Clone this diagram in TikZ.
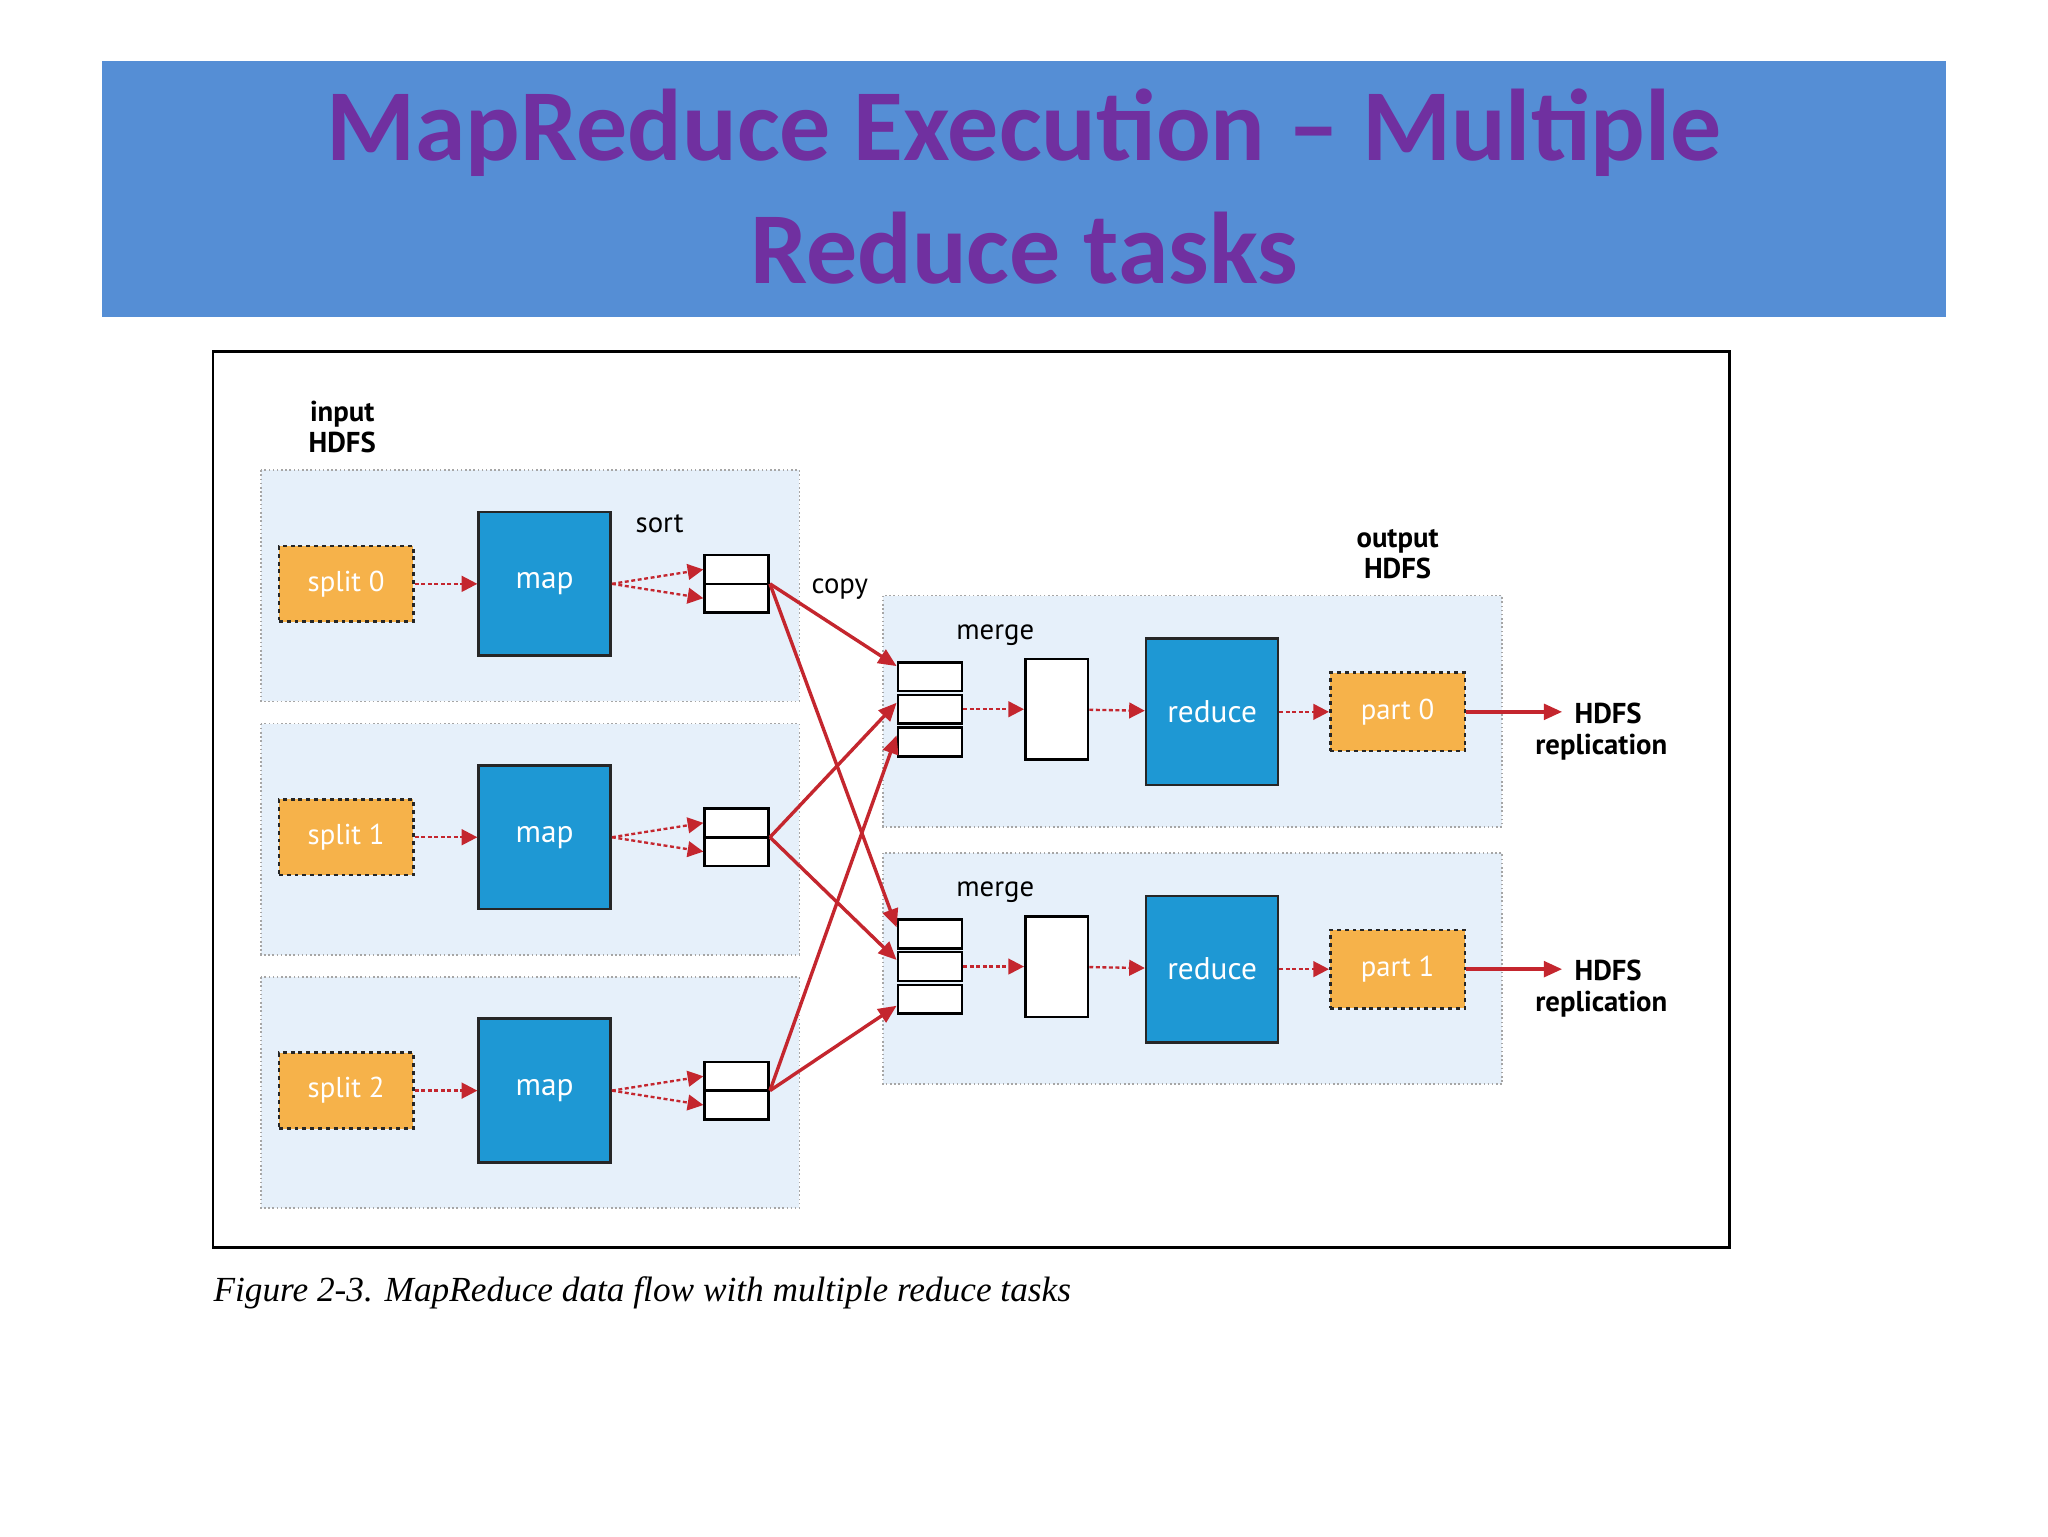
\documentclass[tikz,border=0pt]{standalone}
\usepackage{fontspec}
\setmainfont{Carlito}
\newfontfamily\dfont{PT Sans}
\newfontfamily\cfont{Liberation Serif}
\usetikzlibrary{arrows.meta,calc}
\definecolor{band}{HTML}{558ED5}
\definecolor{tpurple}{HTML}{7030A0}
\definecolor{rred}{HTML}{C4262E}
\definecolor{mblue}{HTML}{1E98D4}
\definecolor{sorange}{HTML}{F6B24A}
\definecolor{rbg}{HTML}{E6F0FA}
\tikzset{
  region/.style={draw=gray!70, dotted, line width=1.2pt, fill=rbg},
  splitbox/.style={draw=black!85, dashed, line width=2pt, fill=sorange, minimum width=103, minimum height=58, font=\dfont\fontsize{22}{24}\selectfont, text=white},
  mapbox/.style={draw=black!85, line width=2pt, fill=mblue, minimum width=101, minimum height=110, font=\dfont\fontsize{24}{26}\selectfont, text=white},
  cell/.style={draw=black, line width=2pt, fill=white, minimum width=49, minimum height=22, inner sep=0},
  wbox/.style={draw=black, line width=2pt, fill=white, minimum width=48, minimum height=77},
  darr/.style={rred, densely dashed, line width=1.8pt, -{Triangle[length=12,width=12]}},
  carr/.style={rred, line width=2.6pt, -{Triangle[length=14,width=12]}},
  lbl/.style={font=\dfont\fontsize{22}{24}\selectfont},
  blbl/.style={font=\dfont\bfseries\fontsize{22}{24}\selectfont, align=center}
}
\begin{document}
\begin{tikzpicture}[x=1pt,y=-1pt]
\useasboundingbox (0,0) rectangle (1568,1176);
\fill[white] (0,0) rectangle (1568,1176);
\fill[band] (78,47) rectangle (1490,243);
\node[text=tpurple, font=\bfseries\fontsize{78}{94}\selectfont, align=center] (title) at (784,143) {MapReduce Execution -- Multiple\\Reduce tasks};
\draw[line width=2pt, fill=white] (163,269) rectangle (1324,955);
\node[anchor=west, font=\cfont\itshape\fontsize{27}{30}\selectfont] (cap) at (160,990) {Figure 2-3. MapReduce data flow with multiple reduce tasks};
\node[blbl] (inhdfs) at (262,327) {input\\HDFS};
\node[blbl] (outhdfs) at (1070,424) {output\\HDFS};
\foreach \i/\y in {0/447,1/641,2/835}{
  \draw[region] (200,\y-87) rectangle (612,\y+90);
  \node[splitbox] (s\i) at (265,\y) {split \i};
  \node[mapbox] (m\i) at (417,\y) {map};
  \node[cell] (a\i) at (564,\y-11) {};
  \node[cell] (b\i) at (564,\y+11) {};
  \draw[darr] (s\i) -- (m\i);
  \draw[darr] (m\i.east) -- (a\i.west);
  \draw[darr] (m\i.east) -- (b\i.west);
}
\node[lbl] (sortl) at (505,401) {sort};
\node[lbl] (copyl) at (643,451) {copy};
\foreach \j/\y in {0/543,1/740}{
  \draw[region] (676,\y-87) rectangle (1150,\y+90);
  \node[cell] (p\j) at (712,\y-25) {};
  \node[cell] (q\j) at (712,\y) {};
  \node[cell] (r\j) at (712,\y+25) {};
  \node[lbl] (ml\j) at (762,\y-57) {merge};
  \node[wbox] (w\j) at (809,\y) {};
  \node[mapbox, minimum height=112] (rd\j) at (928,\y+2) {reduce};
  \node[splitbox, minimum height=60] (pt\j) at (1070,\y+2) {part \j};
  \draw[darr] (q\j) -- (w\j);
  \draw[darr] (w\j) -- (rd\j);
  \draw[darr] (rd\j) -- (pt\j);
  \coordinate (e\j) at (1196,\y+2);
  \draw[carr] (pt\j) -- (e\j);
  \node[blbl, anchor=west, align=left] (h\j) at (1172,\y+17) {\hspace*{30pt}HDFS\\replication};
}
\foreach \i in {0,1,2}{
  \coordinate (o\i) at ($(a\i.east)!0.5!(b\i.east)$);
}
\draw[carr] (o0) -- ($(p0.west)+(0,-8)$);
\draw[carr] (o0) -- ($(p1.west)+(0,-5)$);
\draw[carr] (o1) -- ($(q0.west)+(0,-5)$);
\draw[carr] (o1) -- ($(q1.west)+(0,-5)$);
\draw[carr] (o2) -- ($(r0.west)+(0,-5)$);
\draw[carr] (o2) -- ($(r1.west)+(0,5)$);
\end{tikzpicture}
\end{document}
